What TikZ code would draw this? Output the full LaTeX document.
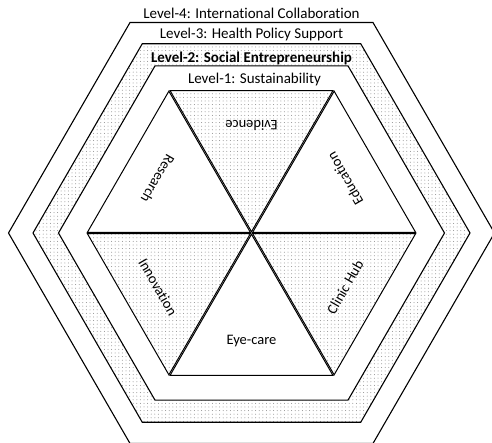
\documentclass[tikz,border=0pt]{standalone}
\usepackage{fontspec}
\setmainfont{Carlito}[Ligatures={NoCommon}]
\usetikzlibrary{patterns.meta}
\tikzset{
  ring/.style={draw=black, line width=1.1pt, line join=miter},
  stipple/.style={pattern={Dots[distance=3.6pt,radius=0.5pt]}, pattern color=black!45},
  levellabel/.style={font=\fontsize{15}{18}\selectfont, inner sep=0pt, anchor=base},
  seglabel/.style={font=\fontsize{14.5}{17}\selectfont, inner sep=0pt},
  tri/.style={draw=black, line width=1.0pt, line join=miter}
}
\begin{document}
\begin{tikzpicture}[x=1pt,y=1pt]
\useasboundingbox (0,0) rectangle (492,443);
\begin{scope}[shift={(251.5,210)}]
  % level-2 stippled ring (between hexagons B and C)
  \fill[white] (0:218.5) -- (60:218.5) -- (120:218.5) -- (180:218.5) -- (240:218.5) -- (300:218.5) -- cycle;
  \fill[stipple] (0:218.5) -- (60:218.5) -- (120:218.5) -- (180:218.5) -- (240:218.5) -- (300:218.5) -- cycle;
  \fill[white] (0:193) -- (60:193) -- (120:193) -- (180:193) -- (240:193) -- (300:193) -- cycle;
  % hexagon outlines
  \draw[ring] (0:243) -- (60:243) -- (120:243) -- (180:243) -- (240:243) -- (300:243) -- cycle;
  \draw[ring] (0:218.5) -- (60:218.5) -- (120:218.5) -- (180:218.5) -- (240:218.5) -- (300:218.5) -- cycle;
  \draw[ring] (0:193) -- (60:193) -- (120:193) -- (180:193) -- (240:193) -- (300:193) -- cycle;
  % six triangles
  \begin{scope}[shift={(90:1.3)}]
    \fill[stipple] (0,0) -- (60:163) -- (120:163) -- cycle;
    \draw[tri] (0,0) -- (60:163) -- (120:163) -- cycle;
  \end{scope}
  \begin{scope}[shift={(30:1.3)}]
    \draw[tri, fill=white] (0,0) -- (0:163) -- (60:163) -- cycle;
  \end{scope}
  \begin{scope}[shift={(-30:1.3)}]
    \fill[stipple] (0,0) -- (-60:163) -- (0:163) -- cycle;
    \draw[tri] (0,0) -- (-60:163) -- (0:163) -- cycle;
  \end{scope}
  \begin{scope}[shift={(-90:1.3)}]
    \draw[tri, fill=white] (0,0) -- (240:163) -- (300:163) -- cycle;
  \end{scope}
  \begin{scope}[shift={(210:1.3)}]
    \fill[stipple] (0,0) -- (180:163) -- (240:163) -- cycle;
    \draw[tri] (0,0) -- (180:163) -- (240:163) -- cycle;
  \end{scope}
  \begin{scope}[shift={(150:1.3)}]
    \draw[tri, fill=white] (0,0) -- (120:163) -- (180:163) -- cycle;
  \end{scope}
  % segment labels
  \node[seglabel, rotate=180] (evidence) at (90:108) {Evidence};
  \node[seglabel, rotate=120] (education) at (30:108) {Education};
  \node[seglabel, rotate=60] (clinic) at (-30:108) {Clinic Hub};
  \node[seglabel] (eyecare) at (-90:108) {Eye-care};
  \node[seglabel, rotate=-60] (innovation) at (210:108) {Innovation};
  \node[seglabel, rotate=-120] (research) at (150:108) {Research};
  % level labels
  \node[levellabel] (lv4) at (0,214) {Level-4: International Collaboration};
  \node[levellabel] (lv3) at (0,194) {Level-3: Health Policy Support};
  \node[levellabel, font=\fontsize{15}{18}\selectfont\bfseries] (lv2) at (0,170) {Level-2: Social Entrepreneurship};
  \node[levellabel] (lv1) at (3,149) {Level-1: Sustainability};
\end{scope}
\end{tikzpicture}
\end{document}
